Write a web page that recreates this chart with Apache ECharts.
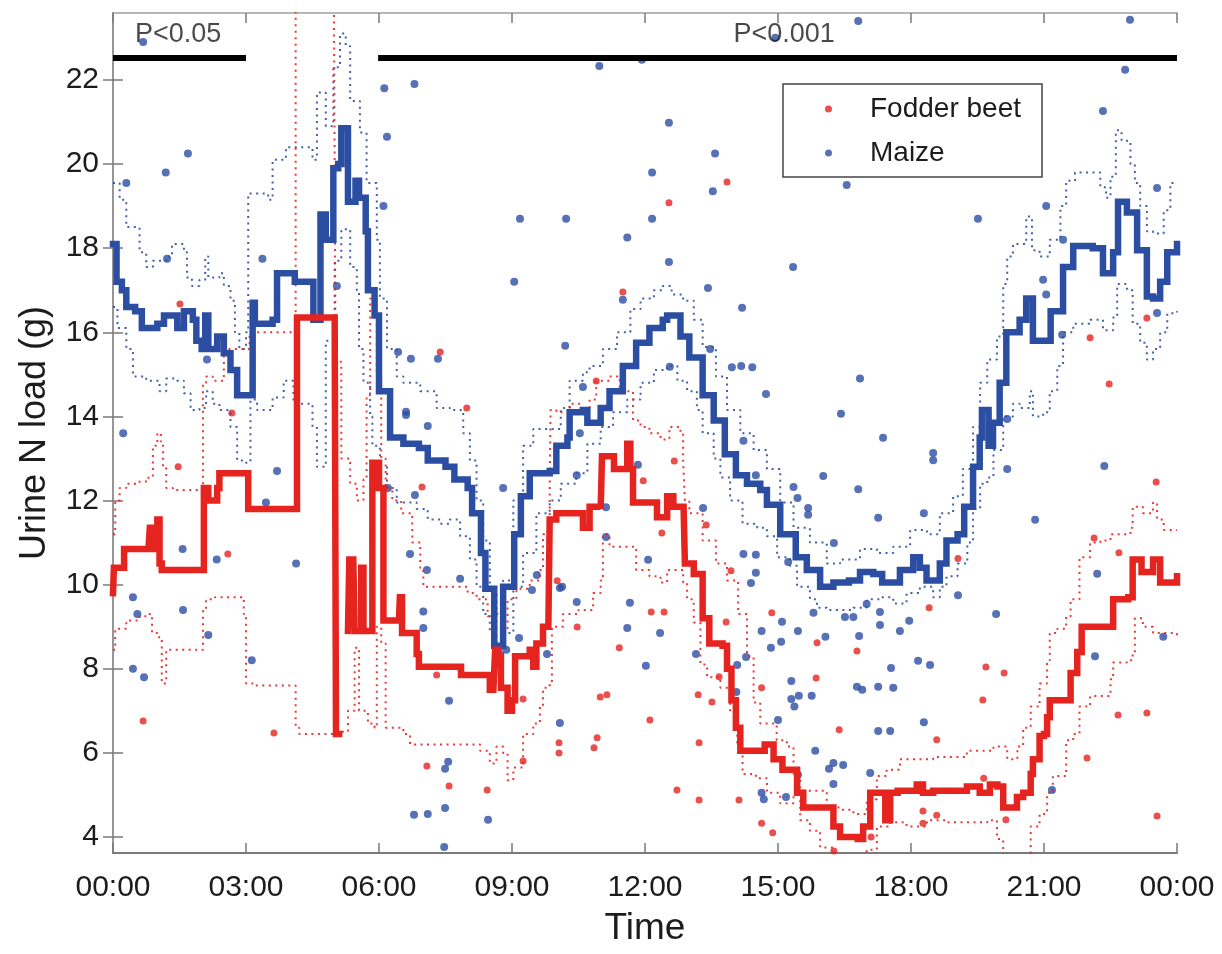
<!DOCTYPE html>
<html><head><meta charset="utf-8">
<script src="https://cdn.jsdelivr.net/npm/echarts@6/dist/echarts.min.js"></script>
<style>html,body{margin:0;padding:0;background:#fff}#chart{width:1222px;height:954px}</style>
</head><body><div id="chart"></div>
<script>
// ---- data (hour of day, urine N load in g) ----
const xTickHours = [0, 3, 6, 9, 12, 15, 18, 21, 24];
const yTickValues = [4, 6, 8, 10, 12, 14, 16, 18, 20, 22];

const maizeMean = [[0,18.1],[0.08,17.2],[0.2,17.0],[0.3,16.6],[0.5,16.5],[0.65,16.1],[1.0,16.2],[1.15,16.4],[1.45,16.1],[1.6,16.5],[1.8,16.3],[1.88,15.8],[2.0,15.6],[2.08,16.4],[2.15,15.6],[2.35,15.9],[2.5,15.5],[2.65,15.1],[2.8,14.5],[3.1,14.5],[3.15,16.7],[3.2,16.2],[3.6,16.3],[3.7,17.4],[4.0,17.4],[4.1,17.2],[4.45,17.2],[4.52,16.3],[4.62,16.3],[4.68,18.8],[4.8,18.2],[4.92,18.2],[4.97,19.9],[5.08,20.0],[5.15,20.85],[5.3,19.1],[5.4,19.1],[5.47,19.6],[5.55,19.2],[5.7,18.4],[5.75,17.0],[5.9,16.4],[6.0,14.6],[6.25,13.5],[6.55,13.35],[6.9,13.25],[7.1,12.95],[7.5,12.8],[7.7,12.5],[8.0,12.3],[8.1,11.7],[8.3,10.75],[8.4,9.9],[8.6,8.55],[8.8,9.95],[9.05,11.2],[9.2,12.1],[9.4,12.65],[9.85,12.7],[10.0,13.3],[10.25,13.5],[10.3,14.1],[10.6,14.15],[10.7,13.85],[11.0,14.2],[11.2,14.6],[11.5,15.2],[11.8,15.75],[12.1,16.1],[12.4,16.3],[12.5,16.4],[12.8,15.9],[13.0,15.4],[13.3,14.5],[13.55,13.9],[13.8,13.1],[14.05,12.6],[14.3,12.4],[14.6,12.25],[14.75,11.9],[15.05,11.2],[15.4,10.65],[15.65,10.35],[15.95,9.95],[16.25,10.05],[16.6,10.1],[16.85,10.3],[17.15,10.25],[17.35,10.05],[17.75,10.35],[18.05,10.65],[18.2,10.4],[18.35,10.1],[18.65,10.5],[18.8,11.05],[19.05,11.2],[19.2,11.85],[19.4,12.8],[19.55,13.5],[19.6,14.15],[19.75,13.3],[19.85,13.85],[20.0,14.8],[20.15,16.0],[20.45,16.3],[20.6,16.8],[20.75,15.8],[21.05,15.8],[21.15,16.5],[21.43,17.55],[21.66,18.05],[22.1,18.0],[22.33,17.4],[22.56,17.9],[22.67,19.1],[22.87,18.85],[23.1,17.95],[23.32,16.85],[23.46,16.8],[23.62,17.2],[23.78,17.9],[24,18.1]];

const maizeUpper = [[0,19.55],[0.15,19.15],[0.3,18.5],[0.6,17.9],[0.75,17.55],[0.9,17.7],[1.2,17.8],[1.33,18.1],[1.6,17.9],[1.67,17.3],[1.78,17.1],[1.95,17.25],[2.08,17.8],[2.15,17.3],[2.4,17.4],[2.5,17.1],[2.65,16.75],[2.75,16.0],[2.85,15.6],[3.0,16.0],[3.05,19.3],[3.4,19.3],[3.5,19.15],[3.6,20.1],[3.9,20.4],[4.37,20.4],[4.5,20.1],[4.6,21.7],[4.8,20.9],[4.97,22.3],[5.12,23.1],[5.25,22.8],[5.35,21.5],[5.5,21.5],[5.57,20.75],[5.72,19.55],[5.95,18.2],[6.02,16.8],[6.18,15.6],[6.4,14.95],[6.55,14.8],[6.93,14.6],[7.3,14.2],[7.6,14.15],[7.9,13.6],[8.05,12.95],[8.2,12.0],[8.35,11.05],[8.5,9.8],[8.65,9.3],[8.8,10.1],[9.03,12.0],[9.25,13.3],[9.48,13.7],[9.8,13.7],[10.1,14.2],[10.3,14.85],[10.6,15.05],[10.75,15.2],[11.05,15.6],[11.37,16.0],[11.67,16.55],[11.9,16.8],[12.2,17.0],[12.4,17.1],[12.6,16.9],[12.86,16.75],[13.1,16.3],[13.3,15.65],[13.6,14.95],[13.85,14.15],[14.15,13.6],[14.45,13.2],[14.75,12.75],[15.05,11.95],[15.35,11.35],[15.72,11.0],[16.1,10.5],[16.4,10.6],[16.85,10.85],[17.23,10.75],[17.6,10.9],[17.98,11.3],[18.36,11.2],[18.65,11.7],[18.95,12.1],[19.17,12.75],[19.4,13.75],[19.56,14.8],[19.72,15.35],[19.94,15.9],[20.08,17.15],[20.17,17.8],[20.3,18.1],[20.6,18.75],[20.73,17.95],[20.9,17.8],[21.13,18.2],[21.37,19.0],[21.5,19.6],[21.7,19.8],[21.97,19.8],[22.27,19.45],[22.4,19.2],[22.5,19.7],[22.62,20.8],[22.75,20.55],[22.95,20.0],[23.05,19.55],[23.17,19.0],[23.32,18.4],[23.46,18.35],[23.7,18.9],[23.85,19.55],[24,19.55]];

const maizeLower = [[0,16.6],[0.1,16.1],[0.3,15.6],[0.45,14.95],[0.75,14.85],[1.05,14.6],[1.2,14.9],[1.45,14.85],[1.6,14.55],[1.75,14.15],[1.95,14.2],[2.1,14.6],[2.25,14.3],[2.4,14.15],[2.65,13.75],[2.8,12.95],[3.0,12.9],[3.1,14.4],[3.25,14.15],[3.45,14.15],[3.6,14.45],[3.85,14.85],[4.07,14.3],[4.37,14.3],[4.5,13.75],[4.6,12.8],[4.75,12.8],[4.8,15.8],[5.0,17.7],[5.15,18.45],[5.35,17.55],[5.5,17.0],[5.55,15.6],[5.65,14.8],[5.8,14.0],[5.85,13.3],[6.02,12.8],[6.18,12.3],[6.4,11.95],[6.55,11.95],[6.85,11.8],[7.1,11.55],[7.38,11.45],[7.6,11.55],[7.83,11.15],[8.05,10.6],[8.2,9.95],[8.35,9.3],[8.5,8.85],[8.65,8.2],[8.8,8.85],[9.03,9.95],[9.25,10.75],[9.55,11.7],[9.85,12.0],[10.1,12.4],[10.45,12.65],[10.7,13.35],[11.0,13.75],[11.28,14.1],[11.6,14.4],[11.9,14.8],[12.2,15.1],[12.5,15.2],[12.73,14.85],[12.95,14.6],[13.17,14.15],[13.3,13.6],[13.55,13.0],[13.7,12.55],[13.92,12.0],[14.2,11.45],[14.53,11.35],[14.75,11.15],[14.98,10.65],[15.27,10.45],[15.43,9.95],[15.72,9.65],[15.88,9.45],[16.1,9.4],[16.4,9.4],[16.7,9.45],[17.0,9.65],[17.3,9.7],[17.6,9.55],[17.9,9.8],[18.2,9.95],[18.5,9.7],[18.65,9.95],[18.8,10.2],[19.05,10.5],[19.27,11.0],[19.4,11.8],[19.56,12.4],[19.72,12.55],[19.86,13.2],[20.08,14.0],[20.3,14.3],[20.45,14.2],[20.68,14.6],[20.75,14.0],[20.98,14.1],[21.13,14.6],[21.3,15.2],[21.43,16.0],[21.66,16.2],[22.04,16.3],[22.33,16.05],[22.56,16.35],[22.65,17.15],[22.87,17.0],[23.0,16.2],[23.17,15.75],[23.32,15.35],[23.46,15.6],[23.62,16.0],[23.78,16.45],[24,16.5]];

const beetMean = [[0,9.8],[0.02,10.4],[0.2,10.4],[0.25,10.85],[0.8,10.85],[0.83,11.35],[0.88,10.85],[0.95,10.85],[1.0,11.55],[1.05,10.5],[1.1,10.35],[2.0,10.35],[2.05,12.3],[2.15,12.0],[2.35,12.3],[2.4,12.65],[3.0,12.65],[3.05,11.8],[4.07,11.8],[4.15,16.35],[5.0,16.35],[5.03,6.45],[5.06,6.45],[5.1,null],[5.3,8.9],[5.33,10.6],[5.42,10.6],[5.45,8.9],[5.55,8.9],[5.6,10.4],[5.65,8.9],[5.8,8.9],[5.85,12.9],[5.9,12.3],[5.95,12.9],[6.0,12.3],[6.1,9.15],[6.45,9.15],[6.47,9.7],[6.52,8.85],[6.75,8.85],[6.85,8.35],[6.9,8.05],[7.75,8.05],[7.85,7.85],[8.45,7.85],[8.5,7.5],[8.58,7.5],[8.62,8.45],[8.7,8.3],[8.75,7.55],[8.9,7.0],[9.0,7.25],[9.07,8.3],[9.4,8.45],[9.48,8.05],[9.55,8.6],[9.7,9.0],[9.82,9.0],[9.85,11.55],[10.0,11.7],[10.5,11.7],[10.6,11.35],[10.7,11.35],[10.75,11.85],[11.0,11.8],[11.03,13.05],[11.2,13.05],[11.3,12.75],[11.55,12.75],[11.6,13.35],[11.67,12.75],[11.73,11.95],[12.04,11.95],[12.27,11.6],[12.5,12.1],[12.64,11.85],[12.87,11.85],[12.9,10.5],[13.1,10.25],[13.3,9.2],[13.45,8.6],[13.75,8.55],[13.85,8.0],[13.95,7.25],[14.05,6.6],[14.15,6.05],[14.65,6.05],[14.7,6.2],[14.9,5.85],[15.1,5.6],[15.35,5.6],[15.43,5.05],[15.57,4.7],[16.1,4.7],[16.25,4.25],[16.4,4.0],[16.8,3.95],[16.92,4.25],[17.08,5.05],[17.3,5.05],[17.42,4.4],[17.53,5.05],[17.7,5.1],[18.13,5.25],[18.27,5.05],[18.5,5.1],[19.26,5.2],[19.55,5.05],[19.78,5.25],[19.95,5.2],[20.08,4.7],[20.3,4.7],[20.39,4.95],[20.53,5.05],[20.7,5.5],[20.75,5.85],[20.9,6.4],[21.0,6.45],[21.07,6.85],[21.13,7.25],[21.5,7.25],[21.6,7.9],[21.75,8.4],[21.85,9.0],[22.5,9.0],[22.56,9.65],[22.9,9.7],[23.0,10.6],[23.2,10.3],[23.4,10.3],[23.46,10.6],[23.62,10.05],[23.9,10.05],[24,10.2]];

const beetUpper = [[0,11.2],[0.05,12.0],[0.15,12.3],[0.3,12.4],[0.6,12.45],[0.8,12.55],[0.9,13.3],[1.0,13.6],[1.08,13.4],[1.13,12.8],[1.2,12.3],[1.35,12.25],[1.96,12.25],[2.03,14.8],[2.1,14.95],[2.25,14.85],[2.42,14.85],[2.5,15.6],[3.0,15.6],[3.08,16.0],[4.07,16.0],[4.12,24.5],[4.98,24.5],[5.02,15.3],[5.15,13.0],[5.35,12.4],[5.5,12.0],[5.65,12.5],[5.72,14.5],[5.8,16.8],[5.95,15.0],[6.05,13.0],[6.15,12.3],[6.3,12.0],[6.5,11.7],[6.75,11.0],[6.93,10.4],[7.0,9.95],[7.75,9.95],[8.0,9.8],[8.2,9.65],[8.45,9.25],[8.65,8.95],[8.9,9.65],[9.1,9.9],[9.4,10.1],[9.63,10.35],[9.7,11.2],[9.85,12.3],[9.87,14.15],[10.0,14.1],[10.3,14.3],[10.55,14.15],[10.75,14.4],[10.9,14.85],[11.2,14.95],[11.43,14.6],[11.65,14.6],[11.73,13.9],[11.9,13.75],[12.1,13.6],[12.35,13.45],[12.55,13.75],[12.8,13.6],[12.86,12.95],[12.9,12.0],[13.0,11.7],[13.3,11.05],[13.6,10.5],[13.85,10.1],[14.1,9.3],[14.3,8.3],[14.45,7.2],[14.6,6.7],[14.97,6.3],[15.2,6.15],[15.35,5.5],[15.5,5.1],[15.8,5.1],[16.1,4.7],[16.4,4.65],[16.7,4.55],[17.0,4.9],[17.23,5.45],[17.45,5.6],[17.75,5.85],[18.13,5.85],[18.5,5.9],[18.9,5.9],[19.26,6.05],[19.63,6.05],[19.86,6.15],[20.17,5.85],[20.4,6.15],[20.53,6.6],[20.7,7.1],[20.9,7.65],[21.07,8.2],[21.13,8.85],[21.3,8.95],[21.5,9.25],[21.6,9.65],[21.8,10.65],[22.04,11.0],[22.27,11.05],[22.5,11.2],[22.7,11.2],[22.95,11.35],[23.0,11.85],[23.23,11.7],[23.46,11.95],[23.55,11.55],[23.7,11.3],[24,11.3]];

const beetLower = [[0,8.45],[0.05,8.95],[0.3,9.15],[0.6,9.25],[0.8,9.3],[0.88,8.85],[1.0,8.75],[1.1,7.65],[1.2,8.45],[1.96,8.45],[2.03,9.4],[2.1,9.65],[2.3,9.7],[2.7,9.7],[2.95,9.3],[3.0,7.65],[3.2,7.6],[4.07,7.6],[4.12,6.6],[4.2,6.45],[5.0,6.45],[5.1,6.5],[5.3,7.0],[5.45,8.5],[5.55,7.0],[5.75,6.7],[5.9,6.6],[5.95,9.0],[6.05,8.6],[6.15,6.6],[6.25,6.6],[6.55,6.45],[6.7,6.2],[8.05,6.2],[8.28,6.05],[8.5,5.75],[8.65,6.15],[8.8,6.0],[8.9,5.35],[9.03,5.65],[9.25,6.45],[9.48,6.7],[9.63,7.1],[9.7,7.55],[9.85,7.65],[9.9,9.0],[10.15,9.3],[10.5,9.4],[10.83,9.8],[11.0,10.1],[11.05,11.2],[11.2,10.9],[11.6,10.9],[11.8,10.35],[12.1,10.2],[12.35,10.05],[12.5,10.35],[12.7,10.35],[12.86,10.05],[12.95,9.65],[13.1,9.1],[13.25,8.1],[13.4,7.8],[13.7,7.55],[13.92,6.95],[14.08,6.2],[14.2,5.5],[14.5,5.4],[14.75,5.05],[15.05,4.8],[15.35,5.05],[15.5,4.4],[15.72,4.15],[15.95,3.75],[16.25,3.5],[16.8,3.5],[17.0,3.7],[17.23,4.25],[17.53,4.35],[17.9,4.25],[18.36,4.4],[18.8,4.35],[19.26,4.35],[19.72,4.4],[19.94,3.95],[20.08,3.55],[20.45,3.55],[20.7,4.25],[20.9,4.55],[21.07,5.05],[21.2,5.45],[21.5,6.3],[21.66,6.45],[21.8,7.1],[22.04,7.35],[22.27,7.35],[22.5,7.75],[22.56,8.15],[22.87,8.2],[23.0,8.35],[23.05,9.2],[23.23,9.0],[23.46,8.85],[23.78,8.85],[24,8.7]];

const maizePoints = [[0.68,22.9],[0.3,19.55],[1.19,19.8],[1.69,20.25],[1.22,17.75],[3.37,17.75],[6.12,21.8],[6.18,20.65],[6.1,19.0],[5.05,17.1],[6.8,21.9],[0.23,13.6],[2.12,15.35],[3.7,12.7],[3.45,11.95],[1.57,10.85],[2.34,10.6],[4.13,10.5],[0.45,9.7],[1.58,9.4],[0.45,8.0],[0.7,7.8],[0.55,9.3],[2.15,8.8],[3.13,8.2],[9.18,18.7],[9.05,17.2],[10.97,22.33],[11.93,22.48],[12.54,20.98],[13.58,20.25],[12.16,19.8],[13.53,19.35],[10.22,18.7],[12.16,18.7],[11.6,18.25],[12.54,17.67],[15.34,17.55],[13.42,17.05],[11.5,16.77],[14.19,16.58],[14.94,23.0],[16.81,23.4],[22.94,23.43],[22.83,22.24],[22.33,21.26],[16.55,19.5],[19.51,18.7],[21.05,19.0],[20.98,17.25],[21.05,16.9],[23.55,19.43],[21.43,18.2],[23.55,16.46],[21.41,15.94],[20.17,13.94],[20.17,12.75],[22.36,12.82],[20.8,11.54],[22.2,10.26],[19.92,9.3],[23.69,8.76],[22.15,8.3],[21.18,5.12],[13.47,15.6],[13.96,15.17],[14.17,15.2],[14.42,15.17],[16.85,14.9],[14.73,14.53],[16.42,14.06],[17.37,13.49],[14.22,13.42],[18.5,13.13],[18.5,12.96],[14.5,12.6],[16.02,12.58],[15.35,12.32],[16.81,12.27],[15.44,12.06],[13.31,11.82],[15.68,11.82],[15.68,11.66],[18.29,11.7],[17.26,11.59],[16.26,10.99],[14.22,10.73],[14.5,10.71],[15.23,10.54],[14.5,10.28],[14.39,10.04],[19.06,9.75],[15.8,9.33],[16.07,8.76],[16.51,9.23],[16.7,9.23],[17.0,9.54],[17.3,9.35],[17.3,9.04],[17.75,8.9],[17.96,9.14],[16.83,8.78],[15.09,9.12],[14.63,8.9],[15.45,8.9],[15.07,8.64],[14.84,8.5],[14.28,8.28],[14.08,8.09],[18.16,8.19],[18.43,8.09],[17.55,8.02],[16.78,7.57],[16.9,7.5],[17.26,7.57],[17.6,7.55],[15.3,7.71],[15.47,7.36],[15.76,7.36],[15.3,7.28],[15.37,7.1],[14.06,7.45],[15.0,6.78],[18.29,6.73],[17.26,6.52],[17.53,6.52],[15.84,6.05],[16.25,5.76],[16.47,5.71],[16.15,5.62],[17.08,5.52],[15.45,5.48],[16.25,5.26],[14.63,5.05],[14.68,4.9],[15.18,4.95],[10.2,15.68],[6.43,15.53],[6.72,15.37],[7.33,15.37],[6.61,14.11],[6.61,14.03],[7.1,13.77],[10.6,14.7],[12.56,15.18],[10.53,13.6],[10.46,12.6],[11.84,12.85],[11.12,11.84],[6.2,12.3],[6.81,12.13],[8.8,12.3],[11.12,11.13],[6.7,10.73],[7.08,10.35],[12.07,10.59],[7.83,10.14],[7.0,9.36],[7.0,8.97],[10.13,9.95],[10.46,9.59],[11.66,9.57],[12.34,8.85],[9.16,8.73],[9.56,10.23],[9.45,9.87],[10.08,9.92],[11.6,8.97],[12.02,8.07],[13.15,8.35],[8.87,8.45],[9.79,8.35],[7.58,7.24],[10.08,6.71],[7.56,5.79],[7.49,5.62],[6.79,4.53],[7.1,4.55],[7.49,4.69],[8.46,4.41],[7.47,3.76]];

const beetPoints = [[1.51,16.67],[2.68,14.08],[1.47,12.8],[2.59,10.73],[0.68,6.76],[3.63,6.47],[7.38,15.53],[7.98,14.2],[6.97,12.32],[10.9,14.84],[12.66,12.94],[11.96,12.47],[12.38,11.23],[13.38,11.42],[13.94,10.33],[14.86,9.33],[12.14,9.35],[12.43,9.35],[11.42,8.5],[10.02,10.09],[13.85,19.57],[12.54,19.08],[11.5,16.96],[7.3,7.85],[9.25,7.28],[10.47,8.99],[13.83,9.11],[10.99,7.33],[11.14,7.38],[12.11,6.78],[10.92,6.36],[10.85,6.12],[10.06,6.24],[10.06,6.0],[9.25,5.81],[7.08,5.69],[7.58,5.21],[8.44,5.12],[12.72,5.12],[13.22,4.88],[14.12,4.88],[13.22,6.24],[13.2,7.38],[13.51,7.21],[13.67,7.81],[15.88,8.62],[16.78,8.42],[14.63,7.55],[15.86,7.78],[16.38,6.55],[18.58,6.31],[14.63,4.33],[14.88,4.1],[16.26,3.67],[19.69,8.04],[20.1,7.9],[19.62,7.26],[19.64,5.4],[20.14,4.41],[18.27,4.62],[18.27,4.33],[18.58,4.52],[17.1,4.0],[18.41,9.45],[19.06,10.62],[22.67,6.9],[23.32,6.95],[21.97,5.88],[23.55,4.5],[22.04,15.87],[23.32,16.34],[22.47,14.77],[23.53,12.44],[22.13,11.11],[22.69,10.76]];

const significanceBars = [[0,22.52],[3,22.52],[3.01,null],[5.98,22.52],[24,22.52]];
const significanceLabels = [['P<0.05',1.47,23.07],['P<0.001',15.14,23.07]];

// ---- chart ----
const BLUE = '#2c4ea2', RED = '#e5231f', AXIS = '#7a7a7a', TEXT = '#1c1c1c';
const FONT = 'Liberation Sans, Arial, sans-serif';
const hourLabel = v => (String(Math.round(v) % 24).padStart(2, '0') + ':00');

const chart = echarts.init(document.getElementById('chart'));
const dotted = (data, color) => ({
  type: 'line', data, symbol: 'none', silent: true, z: 3, step: 'end',
  lineStyle: { color, width: 2, type: [2, 4.5], opacity: 0.9 }
});
const meanLine = (data, color) => ({
  type: 'line', data, symbol: 'none', silent: true, z: 5, step: 'end',
  lineStyle: { color, width: 6.5, cap: 'square', join: 'miter' }
});

chart.setOption({
  animation: false,
  backgroundColor: '#fff',
  grid: { left: 113, right: 45, top: 13, bottom: 101, containLabel: false, outerBoundsMode: 'none' },
  legend: {
    data: ['Fodder beet', 'Maize'], orient: 'vertical', left: 783, top: 84,
    padding: [11, 21, 10, 42], itemGap: 16, itemWidth: 7, itemHeight: 7, icon: 'circle',
    borderColor: '#444', borderWidth: 1.5, backgroundColor: '#fff',
    textStyle: { fontSize: 28, fontFamily: FONT, color: TEXT, padding: [0, 0, 0, 33] }
  },
  xAxis: [{
    type: 'value', min: 0, max: 24, interval: 3, position: 'bottom',
    name: 'Time', nameLocation: 'middle', nameGap: 57,
    nameTextStyle: { fontSize: 37, fontFamily: FONT, color: TEXT },
    axisLine: { lineStyle: { color: AXIS, width: 2 } },
    axisTick: { inside: true, length: 10, lineStyle: { color: AXIS, width: 1.5 } },
    axisLabel: { formatter: hourLabel, fontSize: 30, fontFamily: FONT, color: TEXT, margin: 20,
      customValues: xTickHours },
    splitLine: { show: false }
  }, {
    type: 'value', min: 0, max: 24, interval: 3, position: 'top',
    axisLine: { lineStyle: { color: '#a0a0a0', width: 1.5 } },
    axisTick: { inside: true, length: 10, lineStyle: { color: AXIS, width: 1.5 } },
    axisLabel: { show: false }, splitLine: { show: false }
  }],
  yAxis: [{
    type: 'value', min: 3.62, max: 23.59, position: 'left',
    name: 'Urine N load (g)', nameLocation: 'middle', nameGap: 60,
    nameTextStyle: { fontSize: 36, fontFamily: FONT, color: TEXT },
    axisLine: { show: true, lineStyle: { color: AXIS, width: 2 } },
    axisTick: { show: true, inside: true, length: 10, customValues: yTickValues, lineStyle: { color: AXIS, width: 1.5 } },
    axisLabel: { customValues: yTickValues, fontSize: 30, fontFamily: FONT, color: TEXT, margin: 14 },
    splitLine: { show: false }
  }, {
    type: 'value', min: 3.62, max: 23.59, position: 'right',
    axisLine: { show: true, lineStyle: { color: '#a0a0a0', width: 1.5 } },
    axisTick: { show: true, inside: true, length: 10, customValues: yTickValues, lineStyle: { color: AXIS, width: 1.5 } },
    axisLabel: { show: false }, splitLine: { show: false }
  }],
  series: [
    { name: 'Fodder beet', type: 'scatter', data: beetPoints, symbol: 'circle', symbolSize: 7, z: 2,
      itemStyle: { color: RED } },
    { name: 'Maize', type: 'scatter', data: maizePoints, symbol: 'circle', symbolSize: 8, z: 2,
      itemStyle: { color: BLUE } },
    dotted(maizeUpper, BLUE), dotted(maizeLower, BLUE),
    dotted(beetUpper, RED), dotted(beetLower, RED),
    meanLine(maizeMean, BLUE), meanLine(beetMean, RED),
    { type: 'line', data: significanceBars, symbol: 'none', silent: true, z: 6,
      lineStyle: { color: '#000', width: 6 } },
    { type: 'scatter', symbolSize: 0, silent: true, z: 7,
      data: significanceLabels.map(d => ({ name: d[0], value: [d[1], d[2]] })),
      label: { show: true, position: 'inside', formatter: p => p.name,
        fontSize: 27, fontFamily: FONT, color: TEXT } }
  ]
});
</script>
</body></html>
